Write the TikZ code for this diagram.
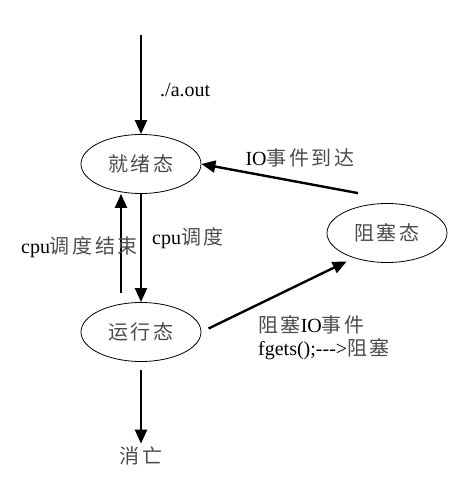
\documentclass[tikz,border=0pt]{standalone}
\usepackage{fontspec}
\setmainfont{Liberation Serif}
\newfontfamily\cjk[LetterSpace=13]{Noto Sans CJK SC}
\usetikzlibrary{shapes.geometric, arrows.meta, positioning}
\newcommand{\zh}[1]{{\cjk\color{black!70}#1}}

\begin{document}
\begin{tikzpicture}[
    x=1pt, y=1pt,
    font=\fontsize{20}{23}\selectfont,
    >={Triangle[length=14pt,width=12pt]},
    state/.style={ellipse, draw, line width=0.8pt, minimum width=120pt, minimum height=59pt, inner sep=0pt},
    move/.style={->, line width=2.4pt},
    lbl/.style={inner sep=0pt, align=left},
]
    \useasboundingbox (0,0) rectangle (459,483);

    \node[state] (ready) at (141,319) {\zh{就绪态}};
    \node[state] (run) at (141,151) {\zh{运行态}};
    \node[state] (blocked) at (387,250) {\zh{阻塞态}};
    \node[inner sep=3pt] (dead) at (141,27) {\zh{消亡}};
    \coordinate (start) at (141,448);

    \draw[move] (start) -- (ready.north);
    \draw[move] (ready.south) -- (run.north);
    \draw[move] ([xshift=-20pt,yshift=9pt]run.north) -- ([xshift=-20pt]ready.south);
    \draw[move] ([yshift=-8pt]run.south) -- (dead);
    \draw[move] ([shift={(-29pt,10pt)}]blocked.north) -- (ready.east);
    \draw[move, shorten <=8pt, shorten >=8pt] (run.east) -- (blocked.217);

    % labels
    \node[lbl, anchor=west] (aout) at (160,393) {./a.out};
    \node[lbl, anchor=east] (back) at (138,236) {cpu\zh{调度结束}};
    \node[lbl, anchor=west] (sched) at (152,245) {cpu\zh{调度}};
    \node[lbl] (arrive) at (300,325) {IO\zh{事件到达}};
    \node[lbl, anchor=north west] (wait) at (258,168) {\zh{阻塞}IO\zh{事件}\\fgets();{-}{-}{-}>\zh{阻塞}};
\end{tikzpicture}
\end{document}
